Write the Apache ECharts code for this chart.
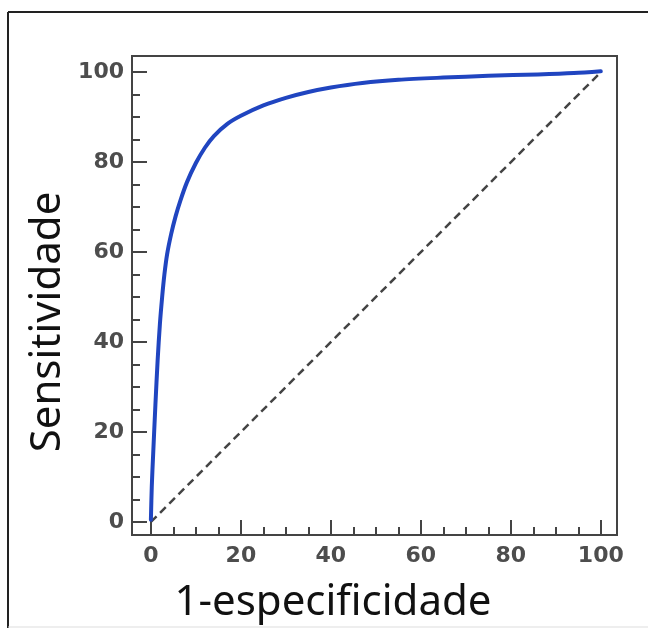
<!DOCTYPE html>
<html>
<head>
<meta charset="utf-8">
<script src="https://cdn.jsdelivr.net/npm/echarts@6.0.0/dist/echarts.min.js"></script>
<style>
html,body{margin:0;padding:0;background:#fff;}
#rocChart{width:648px;height:628px;}
</style>
</head>
<body>
<div id="rocChart"></div>
<script>
// curva ROC (1-especificidade x sensitividade)
var fprValues = [0, 0.2, 0.5, 1.0, 1.5, 2.0, 2.5, 3.0, 3.6, 4.5, 5.5, 6.5, 8, 10, 12, 14, 17, 20, 25, 30, 35, 40, 47, 55, 65, 75, 86, 94, 100];
var tprValues = [0.5, 8, 15, 26, 36, 44, 50, 55, 59.5, 64, 68, 71.3, 75.5, 79.8, 83.2, 85.8, 88.5, 90.3, 92.6, 94.3, 95.6, 96.6, 97.6, 98.3, 98.8, 99.2, 99.5, 99.8, 100.2];
// linha de referencia
var diagonalX = [0, 100];
var diagonalY = [0, 100];
// marcas dos eixos
var majorTicks = [0, 20, 40, 60, 80, 100];
var minorTicks = [5, 10, 15, 25, 30, 35, 45, 50, 55, 65, 70, 75, 85, 90, 95];

var rocData = fprValues.map(function (x, i) { return [x, tprValues[i]]; });
var diagData = diagonalX.map(function (x, i) { return [x, diagonalY[i]]; });

var axisColor = '#444';
var labelStyle = {
	color: '#4d4d4d',
	fontFamily: 'DejaVu Sans',
	fontWeight: 'bold',
	fontSize: 22
};

function majorAxis(min, max, pos) {
	return {
		type: 'value',
		min: min,
		max: max,
		position: pos,
		axisLine: { show: true, onZero: false, lineStyle: { color: axisColor, width: 2 } },
		axisTick: { show: true, inside: false, length: -15, customValues: majorTicks, lineStyle: { color: axisColor, width: 2 } },
		axisLabel: Object.assign({ show: true, margin: pos === 'bottom' ? 10 : 8, customValues: majorTicks }, labelStyle),
		splitLine: { show: false }
	};
}
function minorAxis(min, max, pos) {
	return {
		type: 'value',
		min: min,
		max: max,
		position: pos,
		axisLine: { show: false, onZero: false },
		axisTick: { show: true, inside: false, length: -8, customValues: minorTicks, lineStyle: { color: axisColor, width: 2 } },
		axisLabel: { show: false },
		splitLine: { show: false }
	};
}

var rocChart = echarts.init(document.getElementById('rocChart'));
var optionRoc = {
	animation: false,
	backgroundColor: '#fff',
	grid: {
		left: 132, top: 56, width: 485, height: 479,
		show: true, borderColor: axisColor, borderWidth: 2, backgroundColor: 'transparent'
	},
	xAxis: [majorAxis(-4.2, 103.6, 'bottom'), minorAxis(-4.2, 103.6, 'bottom')],
	yAxis: [majorAxis(-2.9, 103.6, 'left'), minorAxis(-2.9, 103.6, 'left')],
	graphic: [
		// moldura externa
		{ type: 'line', shape: { x1: 8, y1: 12, x2: 648, y2: 12 }, style: { stroke: '#222', lineWidth: 2 } },
		{ type: 'line', shape: { x1: 8, y1: 12, x2: 8, y2: 628 }, style: { stroke: '#222', lineWidth: 2 } },
		{ type: 'line', shape: { x1: 8, y1: 627, x2: 648, y2: 627 }, style: { stroke: '#ddd', lineWidth: 1 } },
		// titulos dos eixos
		{
			type: 'text', x: 333, y: 603,
			style: { text: '1-especificidade', fill: '#111', font: '42px "Noto Sans"', textAlign: 'center', textVerticalAlign: 'middle' }
		},
		{
			type: 'text', x: 48, y: 322, rotation: Math.PI / 2,
			style: { text: 'Sensitividade', fill: '#111', font: '42px "Noto Sans"', textAlign: 'center', textVerticalAlign: 'middle' }
		}
	],
	series: [
		{
			name: 'referencia',
			type: 'line',
			data: diagData,
			showSymbol: false,
			lineStyle: { color: '#444', width: 2.5, type: [8, 5] },
			z: 2
		},
		{
			name: 'ROC',
			type: 'line',
			data: rocData,
			showSymbol: false,
			smooth: 0.3,
			lineStyle: { color: '#2045c0', width: 4, cap: 'round', join: 'round' },
			z: 3
		}
	]
};
rocChart.setOption(optionRoc);
</script>
</body>
</html>
